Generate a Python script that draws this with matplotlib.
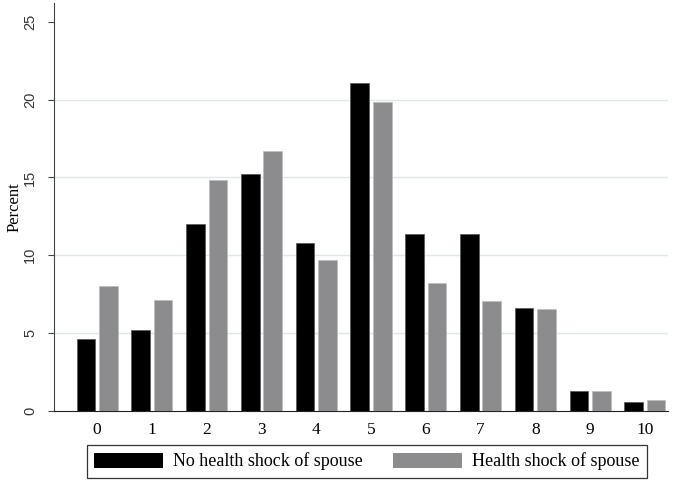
import matplotlib.pyplot as plt
import numpy as np
from matplotlib.patches import Patch

plt.rcParams['font.family'] = ['Liberation Serif', 'DejaVu Serif']

# number of categories on x axis
cats = ['0', '1', '2', '3', '4', '5', '6', '7', '8', '9', '10']
no_shock = [4.65, 5.2, 12.0, 15.2, 10.8, 21.05, 11.35, 11.35, 6.62, 1.29, 0.6]
shock = [8.05, 7.15, 14.85, 16.7, 9.7, 19.85, 8.23, 7.05, 6.54, 1.29, 0.73]

labels = ['No health shock of spouse', 'Health shock of spouse']
black = '#000000'
grey = '#8c8c8e'

fig = plt.figure(figsize=(6.74, 4.8), dpi=100)
ax = fig.add_axes([0.0806, 0.1438, 0.9104, 0.85])

x = np.arange(len(cats))
w = 0.34
ax.bar(x - 0.205, no_shock, w, color=black, edgecolor='#555555', linewidth=0.5, zorder=3)
ax.bar(x + 0.205, shock, w, color=grey, edgecolor='#bbbbbb', linewidth=0.5, zorder=3)

ax.set_xlim(-0.78, 10.42)
ax.set_ylim(0, 26.2)
ax.set_yticks([0, 5, 10, 15, 20, 25])
ax.set_xticks(x)
ax.set_xticklabels(cats)
for v in [5, 10, 15, 20]:
    ax.axhline(v, color='#dde8e8', linewidth=1, zorder=1)

ax.spines['top'].set_visible(False)
ax.spines['right'].set_visible(False)
ax.spines['left'].set_color('#444444')
ax.spines['bottom'].set_color('#222222')
ax.tick_params(axis='y', labelsize=10.5, length=4.5, color='#444444', labelrotation=90, pad=8)
ax.tick_params(axis='x', labelsize=12.5, length=0, pad=8)
for t in ax.get_yticklabels():
    t.set_va('center')
    t.set_family(['Liberation Sans', 'DejaVu Sans'])
    t.set_color('#333333')
ax.set_ylabel('Percent', fontsize=12, labelpad=0)

handles = [Patch(facecolor=black, edgecolor='none'), Patch(facecolor=grey, edgecolor='none')]
leg = fig.legend(handles, labels, loc='center', ncol=2, fontsize=13,
                 bbox_to_anchor=(367 / 674, 18.5 / 480),
                 frameon=True, fancybox=False, edgecolor='black',
                 handlelength=3.8, handleheight=0.95, handletextpad=0.55,
                 borderpad=0.4, columnspacing=1.7, borderaxespad=0)
leg.get_frame().set_linewidth(0.9)

fig.savefig('out.png', dpi=100)
